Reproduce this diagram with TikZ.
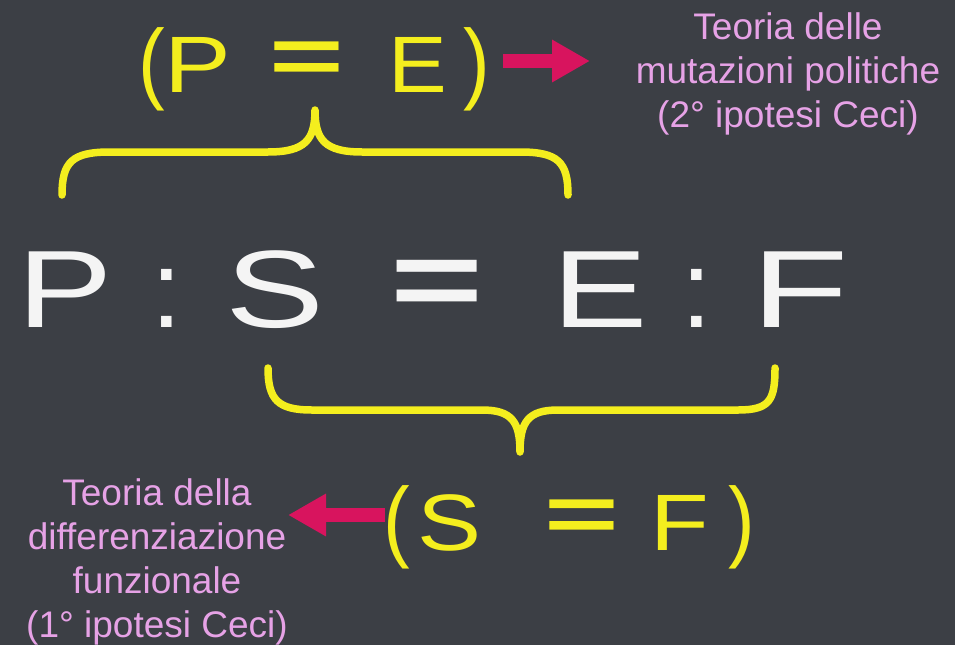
\documentclass[tikz,border=0pt]{standalone}
\usepackage{fontspec}
\setmainfont{Liberation Sans}
\usetikzlibrary{arrows.meta}
\definecolor{board}{HTML}{3C3F45}
\definecolor{chalkyellow}{HTML}{F4EE1E}
\definecolor{chalkpink}{HTML}{E6A2E6}
\definecolor{arrowmag}{HTML}{D8145E}
\definecolor{chalkwhite}{HTML}{F4F4F4}
\newcommand{\wide}[2]{\scalebox{#1}[1]{#2}}
\tikzset{
  bigw/.style={text=chalkwhite, font=\fontsize{110}{110}\selectfont, inner sep=0pt, anchor=base},
  yel/.style={text=chalkyellow, font=\fontsize{80}{80}\selectfont, inner sep=0pt, anchor=base},
  note/.style={text=chalkpink, font=\fontsize{37}{44}\selectfont, align=center, inner sep=0pt},
  brace/.style={draw=chalkyellow, line width=7.5pt, line cap=round, line join=round},
  marrow/.style={draw=arrowmag, line width=14pt, -{Triangle[length=38pt,width=40pt]}}
}
\begin{document}
\begin{tikzpicture}[x=1pt,y=-1pt]
\fill[board] (0,0) rectangle (955,645);
\useasboundingbox (0,0) rectangle (955,645);
% top (P = E)
\node[yel] (tlp) at (152,92) {\scalebox{1}[1.12]{(}};
\node[yel] (tP) at (198,92) {\wide{1.25}{P}};
\node[yel] (teq) at (307,83) {\wide{1.6}{\bfseries =}};
\node[yel] (tE) at (418,92) {\wide{1.1}{E}};
\node[yel] (trp) at (477,92) {\scalebox{1}[1.12]{)}};
\coordinate (ta1) at (503,61);
\coordinate (ta2) at (590,61);
\draw[marrow] (ta1) -- (ta2);
\node[note] (ntop) at (788,74) {Teoria delle\\mutazioni politiche\\(2° ipotesi Ceci)};
% top brace
\draw[brace] (62,195) .. controls (62,162) and (72,152) .. (110,152) -- (268,152)
  .. controls (305,152) and (315,140) .. (315,110)
  .. controls (315,140) and (325,152) .. (362,152) -- (520,152)
  .. controls (558,152) and (568,162) .. (568,195);
% main line
\node[bigw] (mP) at (65,327) {\wide{1.3}{P}};
\node[bigw] (mc1) at (167,327) {:};
\node[bigw] (mS) at (275,327) {\wide{1.35}{S}};
\node[bigw] (meq) at (437,317) {\wide{1.45}{\bfseries =}};
\node[bigw] (mE) at (600,327) {\wide{1.3}{E}};
\node[bigw] (mc2) at (697,327) {:};
\node[bigw] (mF) at (800,327) {\wide{1.45}{F}};
% bottom brace
\draw[brace] (268,368) .. controls (268,400) and (278,410) .. (312,410) -- (482,410)
  .. controls (512,410) and (520,422) .. (520,452)
  .. controls (520,422) and (528,410) .. (558,410) -- (738,410)
  .. controls (770,410) and (775,400) .. (775,368);
% bottom (S = F)
\node[yel] (blp) at (397,550) {\scalebox{1}[1.12]{(}};
\node[yel] (bS) at (450,550) {\wide{1.2}{S}};
\node[yel] (beq) at (582,541) {\wide{1.6}{\bfseries =}};
\node[yel] (bF) at (680,550) {\wide{1.2}{F}};
\node[yel] (brp) at (742,550) {\scalebox{1}[1.12]{)}};
\coordinate (ba1) at (385,515);
\coordinate (ba2) at (288,515);
\draw[marrow] (ba1) -- (ba2);
\node[note] (nbot) at (157,562) {Teoria della\\differenziazione\\funzionale\\(1° ipotesi Ceci)};
\end{tikzpicture}
\end{document}
